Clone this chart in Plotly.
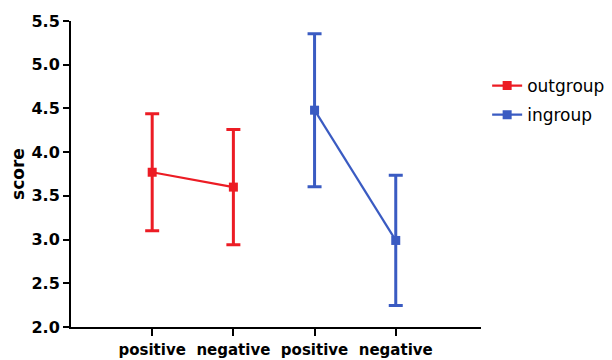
import plotly.graph_objects as go

conditions = ["positive", "negative", "positive", "negative"]
outgroup_x = [1, 2]
outgroup_mean = [3.77, 3.60]
outgroup_err = [0.67, 0.66]
ingroup_x = [3, 4]
ingroup_mean = [4.48, 2.99]
ingroup_err = [0.875, 0.745]
y_ticks = [2.0, 2.5, 3.0, 3.5, 4.0, 4.5, 5.0, 5.5]

RED = "#EC1C24"
BLUE = "#3A5BC2"

fig = go.Figure()
for name, xs, ys, es, col in [
    ("outgroup", outgroup_x, outgroup_mean, outgroup_err, RED),
    ("ingroup", ingroup_x, ingroup_mean, ingroup_err, BLUE),
]:
    fig.add_trace(go.Scatter(
        x=xs, y=ys, name=name, mode="lines+markers",
        legendgroup=name,
        line=dict(color=col, width=2.2),
        marker=dict(symbol="square", size=9, color=col),
        error_y=dict(type="data", array=es, visible=True, color=col,
                     thickness=3, width=7),
    ))

bold = dict(family="DejaVu Sans", size=15, color="black", weight="bold")
fig.update_layout(
    width=612, height=360,
    margin=dict(l=71, r=131, t=21, b=33),
    paper_bgcolor="white", plot_bgcolor="white",
    showlegend=True,
    legend=dict(xref="container", yref="container",
                x=0.796, y=0.811, xanchor="left", yanchor="top",
                font=dict(family="DejaVu Sans", size=17, color="black"),
                traceorder="grouped", tracegroupgap=4,
                bgcolor="rgba(0,0,0,0)"),
    xaxis=dict(range=[0, 5.05], tickvals=[1, 2, 3, 4], ticktext=conditions,
               automargin=False,
               showline=True, linewidth=2, linecolor="black",
               ticks="outside", ticklen=7, tickwidth=2, tickcolor="black",
               ticklabelstandoff=1,
               showgrid=False, zeroline=False, tickfont=bold),
    yaxis=dict(range=[2.0, 5.5], tickvals=y_ticks,
               ticktext=[f"{v:.1f}" for v in y_ticks],
               automargin=False,
               showline=True, linewidth=2, linecolor="black",
               ticks="outside", ticklen=6, tickwidth=2, tickcolor="black",
               showgrid=False, zeroline=False,
               tickfont=dict(family="DejaVu Sans", size=16, color="black", weight="bold"),
               title=dict(text="score", standoff=3,
                          font=dict(family="DejaVu Sans", size=17, color="black", weight="bold"))),
)
fig.write_html("out.html", config={"displayModeBar": False},
               post_script="document.body.style.margin='0';")
